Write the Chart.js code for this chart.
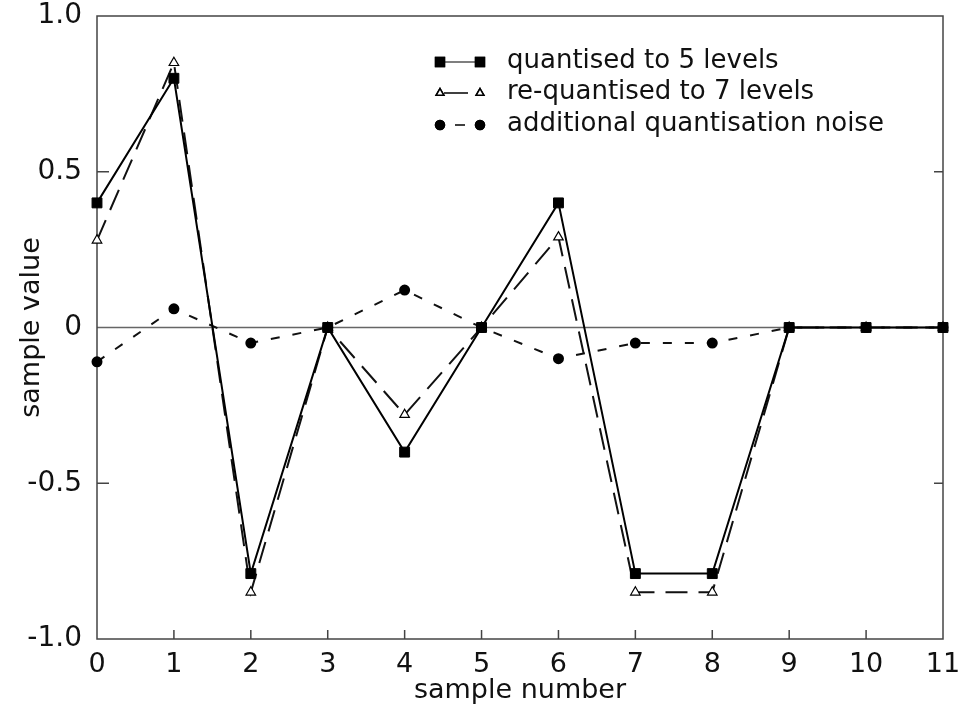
<!DOCTYPE html>
<html>
<head>
<meta charset="utf-8">
<script src="https://cdn.jsdelivr.net/npm/chart.js@4/dist/chart.umd.min.js"></script>
<style>
  body { margin: 0; background: #fff; }
  canvas { display: block; }
</style>
</head>
<body>
<canvas id="grafico" width="966" height="715"></canvas>
<script>
const samples = [0, 1, 2, 3, 4, 5, 6, 7, 8, 9, 10, 11];
const quant5 = [0.4, 0.8, -0.79, 0, -0.4, 0, 0.4, -0.79, -0.79, 0, 0, 0];
const requant7 = [0.28, 0.85, -0.85, 0, -0.28, 0, 0.29, -0.85, -0.85, 0, 0, 0];
const noise = [-0.11, 0.06, -0.05, 0, 0.12, 0, -0.1, -0.05, -0.05, 0, 0, 0];
const yTicks = [-1, -0.5, 0, 0.5, 1];
const labels = ['quantised to 5 levels', 're-quantised to 7 levels', 'additional quantisation noise'];

const FONT = 'DejaVu Sans';
const toPoints = vals => samples.map((s, i) => ({ x: s, y: vals[i] }));

const ctx = document.getElementById('grafico');

const frame = {
  id: 'frame',
  beforeDatasetsDraw(chart) {
    const { ctx, chartArea: a, scales } = chart;
    const y0 = scales.y.getPixelForValue(0);
    ctx.save();
    ctx.strokeStyle = '#666';
    ctx.lineWidth = 1.5;
    ctx.beginPath();
    ctx.moveTo(a.left, y0);
    ctx.lineTo(a.right, y0);
    ctx.stroke();
    ctx.strokeStyle = '#444';
    ctx.strokeRect(a.left, a.top, a.right - a.left, a.bottom - a.top);
    // inward ticks
    ctx.beginPath();
    for (let i = 1; i < samples.length - 1; i++) {
      const px = scales.x.getPixelForValue(samples[i]);
      ctx.moveTo(px, a.bottom);
      ctx.lineTo(px, a.bottom - 9);
    }
    [0.5, -0.5].forEach(v => {
      const py = scales.y.getPixelForValue(v);
      ctx.moveTo(a.left, py);
      ctx.lineTo(a.left + 12, py);
      ctx.moveTo(a.right, py);
      ctx.lineTo(a.right - 9, py);
    });
    ctx.stroke();
    ctx.restore();
  },
  afterDraw(chart) {
    const { ctx } = chart;
    const rows = [62, 93, 125];
    ctx.save();
    chart.data.datasets.forEach((ds, i) => {
      const y = rows[i];
      ctx.strokeStyle = '#000';
      ctx.lineWidth = i === 0 ? 1.2 : 1.5;
      ctx.beginPath();
      if (i === 2) { ctx.moveTo(455, y); ctx.lineTo(465, y); }
      else if (i === 1) { ctx.moveTo(444, y); ctx.lineTo(468, y); }
      else { ctx.moveTo(442, y); ctx.lineTo(478, y); }
      ctx.stroke();
      [440, 480].forEach(x => {
        Chart.helpers.drawPoint(ctx, {
          pointStyle: ds.pointStyle,
          radius: i === 0 ? 6.5 : 4.5,
          borderWidth: 1.2
        }, x, y);
        ctx.fillStyle = ds.pointBackgroundColor;
        ctx.strokeStyle = '#000';
        ctx.fill();
        ctx.stroke();
      });
      ctx.fillStyle = '#111';
      ctx.font = '26px "' + FONT + '"';
      ctx.textBaseline = 'middle';
      ctx.fillText(ds.label, 507, y - 1);
    });
    ctx.restore();
  }
};

new Chart(ctx, {
  type: 'line',
  data: {
    datasets: [{
      label: labels[0],
      data: toPoints(quant5),
      borderColor: '#000',
      borderWidth: 2,
      pointStyle: 'rect',
      pointRadius: 7,
      pointBorderWidth: 1,
      pointBackgroundColor: '#000',
      pointBorderColor: '#000',
      clip: false
    }, {
      label: labels[1],
      data: toPoints(requant7),
      borderColor: '#111',
      borderWidth: 2,
      borderDash: [22, 11],
      pointStyle: 'triangle',
      pointRadius: 5.5,
      pointBorderWidth: 1.2,
      pointBackgroundColor: '#fff',
      pointBorderColor: '#000',
      clip: false
    }, {
      label: labels[2],
      data: toPoints(noise),
      borderColor: '#111',
      borderWidth: 2,
      borderDash: [9, 13],
      pointStyle: 'circle',
      pointRadius: 4.5,
      pointBackgroundColor: '#000',
      pointBorderColor: '#000',
      clip: false
    }]
  },
  options: {
    responsive: false,
    animation: false,
    layout: { padding: { top: 16, right: 23, left: 0, bottom: 0 } },
    plugins: { legend: { display: false }, tooltip: { enabled: false } },
    scales: {
      x: {
        type: 'linear',
        min: 0,
        max: 11,
        afterFit: s => { s.height = 76; s.paddingLeft = 0; s.paddingRight = 0; },
        grid: { display: false, drawTicks: false },
        border: { display: false },
        ticks: { stepSize: 1, padding: 10, color: '#111', font: { family: FONT, size: 27 } },
        title: { display: true, text: 'sample number', color: '#111', padding: { top: 0, bottom: 8 }, font: { family: FONT, size: 27 } }
      },
      y: {
        type: 'linear',
        min: -1,
        max: 1,
        afterFit: s => { s.width = 97; s.paddingTop = 0; s.paddingBottom = 0; },
        afterBuildTicks: s => { s.ticks = yTicks.map(v => ({ value: v })); },
        grid: { display: false, drawTicks: false },
        border: { display: false },
        ticks: {
          padding: 15,
          color: '#111',
          font: { family: FONT, size: 28 },
          callback: v => v === 0 ? '0' : v.toFixed(1)
        },
        title: { display: true, text: 'sample value', color: '#111', padding: { top: 16, bottom: 0 }, font: { family: FONT, size: 27 } }
      }
    }
  },
  plugins: [frame]
});
</script>
</body>
</html>
